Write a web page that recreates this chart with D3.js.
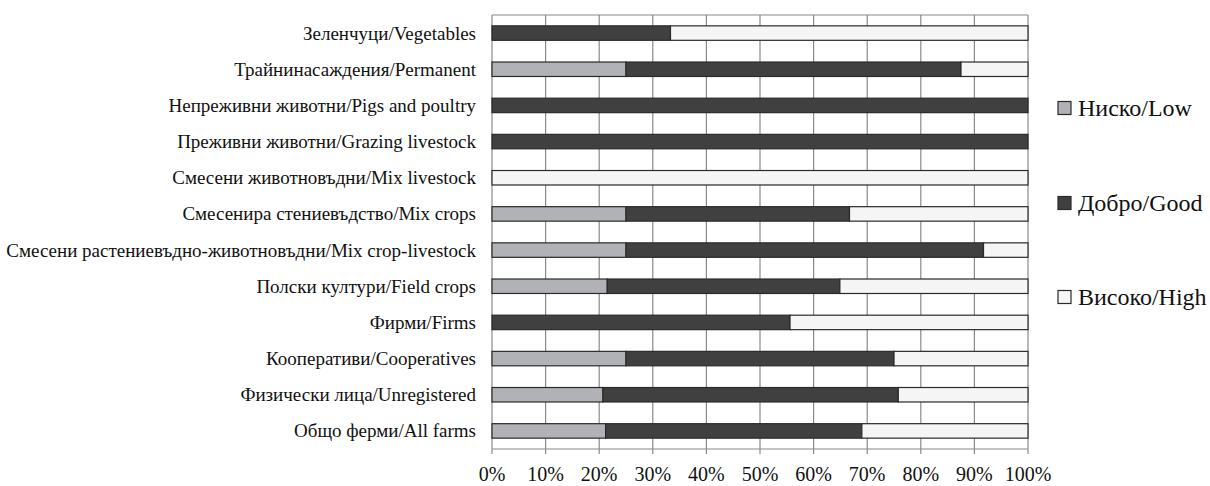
<!DOCTYPE html>
<html lang="bg">
<head>
  <meta charset="UTF-8" />
  <title>Ниско / Добро / Високо</title>
  <script src="https://d3js.org/d3.v7.min.js"></script>
  <style>
    body {
      margin: 0;
      padding: 0;
      background: white;
      font-family: "Liberation Serif", "DejaVu Serif", serif;
    }

    .grid-line {
      stroke: #8a8a8a;
      stroke-width: 1.2px;
    }

    .cat-label {
      font-size: 19px;
      fill: #111;
    }

    .tick-label {
      font-size: 20px;
      fill: #111;
    }

    .legend-text {
      font-size: 24px;
      fill: #111;
    }
  </style>
</head>
<body>
  <svg id="chart" width="1210" height="486"></svg>

  <script>
    // categories, top to bottom
    const categories = [
      "Зеленчуци/Vegetables",
      "Трайнинасаждения/Permanent",
      "Непреживни животни/Pigs and poultry",
      "Преживни животни/Grazing livestock",
      "Смесени животновъдни/Mix livestock",
      "Смесенира стениевъдство/Mix crops",
      "Смесени растениевъдно-животновъдни/Mix crop-livestock",
      "Полски култури/Field crops",
      "Фирми/Firms",
      "Кооперативи/Cooperatives",
      "Физически лица/Unregistered",
      "Общо ферми/All farms"
    ];

    // shares in percent, same order as categories
    const lowValues  = [0, 25, 0, 0, 0, 25, 25, 21.5, 0, 25, 20.7, 21.2];
    const goodValues = [33.3, 62.5, 100, 100, 0, 41.7, 66.7, 43.4, 55.6, 50, 55.1, 47.8];
    const highValues = [66.7, 12.5, 0, 0, 100, 33.3, 8.3, 35.1, 44.4, 25, 24.2, 31];

    const seriesKeys = ["low", "good", "high"];
    const seriesNames = ["Ниско/Low", "Добро/Good", "Високо/High"];
    const xTicks = [0, 10, 20, 30, 40, 50, 60, 70, 80, 90, 100];

    const colors = { low: "#b1b2b6", good: "#404040", high: "#f5f5f5" };

    const table = categories.map((c, i) => ({
      category: c,
      low: lowValues[i],
      good: goodValues[i],
      high: highValues[i]
    }));

    const plot = { left: 492, right: 1028, top: 15, bottom: 449 };

    const svg = d3.select("#chart");

    const x = d3.scaleLinear().domain([0, 100]).range([plot.left, plot.right]);
    const y = d3.scaleBand()
      .domain(categories)
      .range([plot.top, plot.bottom])
      .paddingInner(0.6)
      .paddingOuter(0.3);

    // vertical grid lines (they run a little below the axis like ticks)
    svg.selectAll(".grid-line.v")
      .data(xTicks)
      .join("line")
      .attr("class", "grid-line v")
      .attr("x1", d => x(d))
      .attr("x2", d => x(d))
      .attr("y1", plot.top)
      .attr("y2", plot.bottom + 5);

    // top and bottom frame lines
    svg.selectAll(".grid-line.h")
      .data([plot.top, plot.bottom])
      .join("line")
      .attr("class", "grid-line h")
      .attr("x1", plot.left)
      .attr("x2", plot.right)
      .attr("y1", d => d)
      .attr("y2", d => d);

    // stacked bars
    const stacked = d3.stack().keys(seriesKeys)(table);

    svg.selectAll(".series")
      .data(stacked)
      .join("g")
      .attr("class", "series")
      .attr("fill", d => colors[d.key])
      .selectAll("rect")
      .data(d => d.filter(s => s[1] - s[0] > 0))
      .join("rect")
      .attr("x", d => x(d[0]))
      .attr("y", d => y(d.data.category))
      .attr("width", d => x(d[1]) - x(d[0]))
      .attr("height", y.bandwidth())
      .attr("stroke", "#2a2a2a")
      .attr("stroke-width", 1.2);

    // category labels
    svg.selectAll(".cat-label")
      .data(categories)
      .join("text")
      .attr("class", "cat-label")
      .attr("x", plot.left - 16)
      .attr("y", d => y(d) + y.bandwidth() / 2)
      .attr("text-anchor", "end")
      .attr("dominant-baseline", "central")
      .text(d => d);

    // x tick labels
    svg.selectAll(".tick-label")
      .data(xTicks)
      .join("text")
      .attr("class", "tick-label")
      .attr("x", d => x(d))
      .attr("y", 481)
      .attr("text-anchor", "middle")
      .text(d => d + "%");

    // legend
    const legendY = [108, 203, 297];
    const legend = svg.selectAll(".legend")
      .data(seriesKeys)
      .join("g")
      .attr("class", "legend")
      .attr("transform", (d, i) => `translate(1058,${legendY[i]})`);

    legend.append("rect")
      .attr("x", 0)
      .attr("y", -6.5)
      .attr("width", 13)
      .attr("height", 13)
      .attr("fill", d => colors[d])
      .attr("stroke", "#2a2a2a")
      .attr("stroke-width", 1.2);

    legend.append("text")
      .attr("class", "legend-text")
      .attr("x", 20)
      .attr("y", 0)
      .attr("dominant-baseline", "central")
      .text((d, i) => seriesNames[i]);
  </script>
</body>
</html>
